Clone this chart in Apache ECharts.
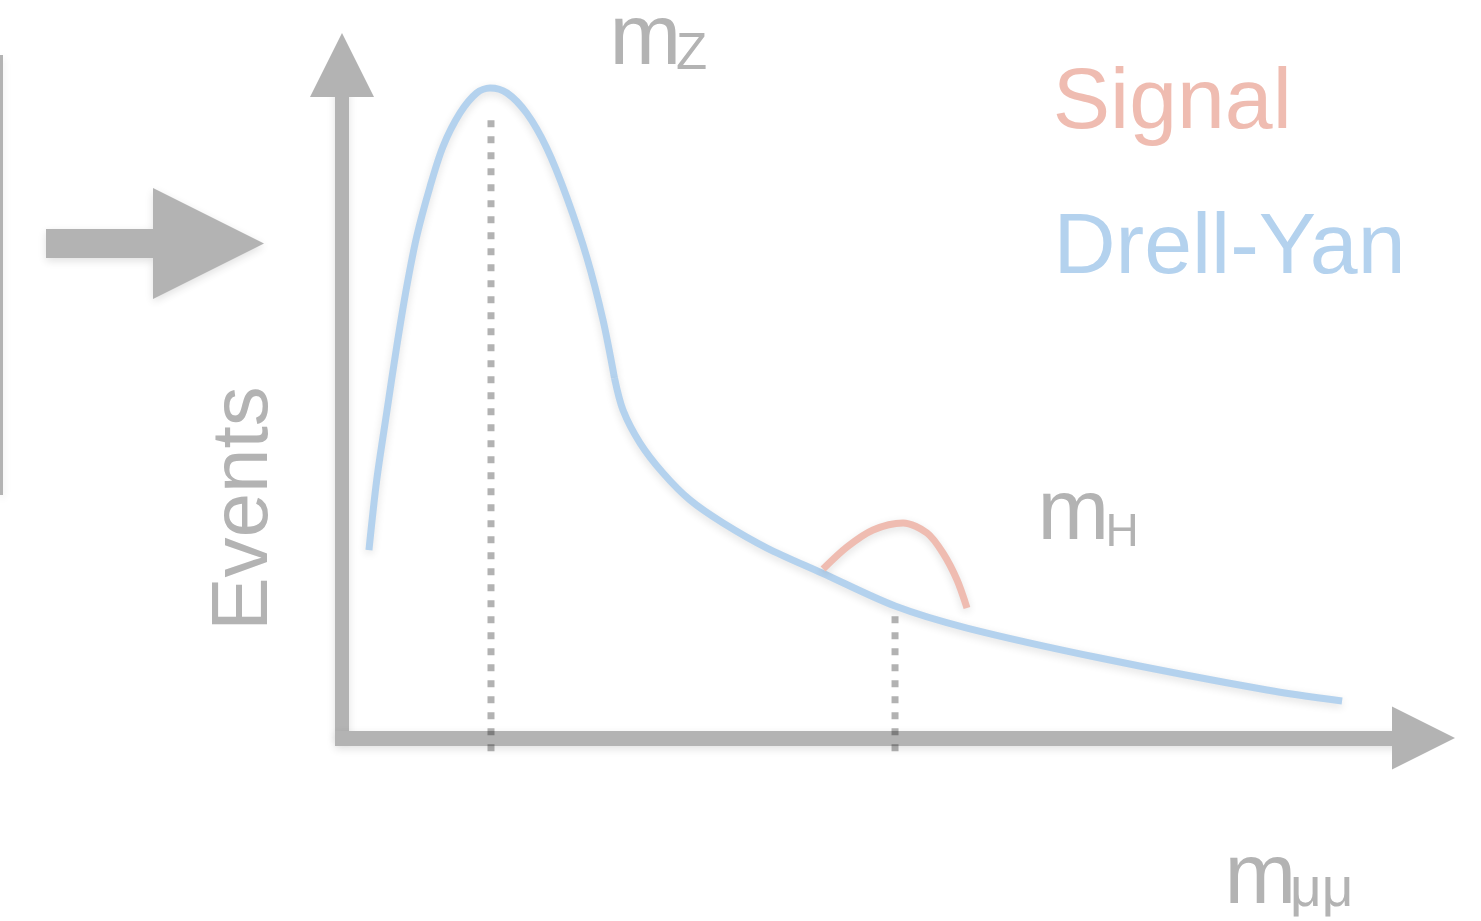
<!DOCTYPE html>
<html>
<head>
<meta charset="utf-8">
<script src="https://cdn.jsdelivr.net/npm/echarts@6/dist/echarts.min.js"></script>
<style>
  html, body { margin: 0; padding: 0; background: #ffffff; }
  #chart { width: 1481px; height: 921px; }
</style>
</head>
<body>
<div id="chart"></div>
<script>
// Dimuon invariant mass (GeV) against event yield (arbitrary units)
const dyPeakMass   = [80.99, 81.64, 82.47, 83.31, 84.15, 84.98, 86.10, 87.18, 88.61, 90.00, 91.12, 92.54, 94.19, 95.86, 97.56, 99.23, 100.57, 101.53];
const dyPeakEvents = [27.93, 38.34, 48.29, 58.14, 67.06, 74.49, 81.92, 87.86, 92.87, 95.84, 96.58, 95.84, 92.82, 87.67, 80.24, 71.32, 62.11, 53.49];
const dyTailMass   = [101.53, 102.24, 103.67, 105.59, 107.85, 110.61, 114.29, 118.89, 125.00, 131.02, 142.15, 156.12, 162.40];
const dyTailEvents = [53.49, 48.74, 43.83, 39.38, 35.36, 31.95, 28.23, 24.52, 19.61, 16.34, 11.89, 7.13, 5.50];
const signalMass   = [118.98, 120.98, 123.16, 125.67, 127.68, 129.01, 130.19, 131.02];
const signalEvents = [25.11, 28.38, 30.91, 31.95, 30.46, 27.49, 23.48, 19.32];

// Reference masses and the vertical extent of their markers
const mZ = 91.2, mH = 125.0;
const mZTop = 91.8, mHTop = 18.1, markBottom = -2.1;

const GRAY = '#b3b3b3';
const BLUE = '#b4d2ee';
const RED = '#efbcb1';
const FONT = '"Liberation Sans", Arial, Helvetica, sans-serif';

const zip = (xs, ys) => xs.map((x, i) => [x, ys[i]]);

const soft = { shadowBlur: 8, shadowColor: 'rgba(0,0,0,0.12)', shadowOffsetY: 3 };

function markerSeries(x, top) {
  return {
    type: 'line',
    data: [[x, top], [x, markBottom]],
    symbol: 'none',
    clip: false,
    silent: true,
    z: 1,
    lineStyle: { color: 'rgba(0,0,0,0.3)', width: 7, type: [7, 9], cap: 'butt' }
  };
}

function label(text, x, y, size, color, extra) {
  return Object.assign({
    type: 'text', x: x, y: y, silent: true,
    style: { text: text, font: size + 'px ' + FONT, fill: color, align: 'left', verticalAlign: 'middle' }
  }, extra || {});
}

const chart = echarts.init(document.getElementById('chart'), null, { renderer: 'canvas' });

chart.setOption({
  animation: false,
  backgroundColor: '#ffffff',
  grid: { left: 335, right: 57.5, top: 65, bottom: 183 },
  xAxis: {
    type: 'value', min: 78.15, max: 169.21,
    axisLine: {
      show: true, onZero: false,
      symbol: ['none', 'triangle'], symbolSize: [63, 63],
      lineStyle: Object.assign({ color: GRAY, width: 15, cap: 'butt' }, soft)
    },
    axisTick: { show: false }, axisLabel: { show: false }, splitLine: { show: false }
  },
  yAxis: {
    type: 'value', min: 0, max: 100, offset: -7,
    axisLine: {
      show: true, onZero: false,
      symbol: ['none', 'triangle'], symbolSize: [64, 64],
      lineStyle: Object.assign({ color: GRAY, width: 14, cap: 'butt' }, soft)
    },
    axisTick: { show: false }, axisLabel: { show: false }, splitLine: { show: false }
  },
  series: [
    markerSeries(mZ, mZTop),
    markerSeries(mH, mHTop),
    {
      name: 'Drell-Yan', type: 'line', data: zip(dyPeakMass, dyPeakEvents),
      symbol: 'none', smooth: 0.3, z: 3,
      lineStyle: Object.assign({ color: BLUE, width: 7, cap: 'butt' }, soft)
    },
    {
      name: 'Drell-Yan', type: 'line', data: zip(dyTailMass, dyTailEvents),
      symbol: 'none', smooth: 0.3, z: 3,
      lineStyle: Object.assign({ color: BLUE, width: 7, cap: 'butt' }, soft)
    },
    {
      name: 'Signal', type: 'line', data: zip(signalMass, signalEvents),
      symbol: 'none', smooth: 0.3, z: 4,
      lineStyle: Object.assign({ color: RED, width: 7, cap: 'butt' }, soft)
    }
  ],
  graphic: [
    // thin bar on the far left
    { type: 'rect', silent: true, shape: { x: 0, y: 55, width: 3, height: 440 },
      style: Object.assign({ fill: GRAY }, soft) },
    // block arrow pointing at the plot
    { type: 'polygon', silent: true,
      shape: { points: [[46, 229], [153, 229], [153, 188], [264, 243.5], [153, 299], [153, 258], [46, 258]] },
      style: Object.assign({ fill: GRAY }, soft) },
    // axis titles and mass labels
    label('Events', 245, 508.5, 80, GRAY, { rotation: Math.PI / 2,
      style: { text: 'Events', font: '80px ' + FONT, fill: GRAY, align: 'center', verticalAlign: 'middle' } }),
    label('m', 609.5, 40, 86, GRAY),
    label('Z', 676, 55, 51, GRAY),
    label('m', 1037.5, 515.5, 86, GRAY),
    label('H', 1105.4, 533, 46, GRAY),
    label('m', 1224.5, 879, 86, GRAY),
    label('\u03bc\u03bc', 1290, 891, 55, GRAY),
    // series names
    label('Signal', 1052.7, 104, 86, RED),
    label('Drell-Yan', 1053.4, 249, 86, BLUE)
  ]
});
</script>
</body>
</html>
